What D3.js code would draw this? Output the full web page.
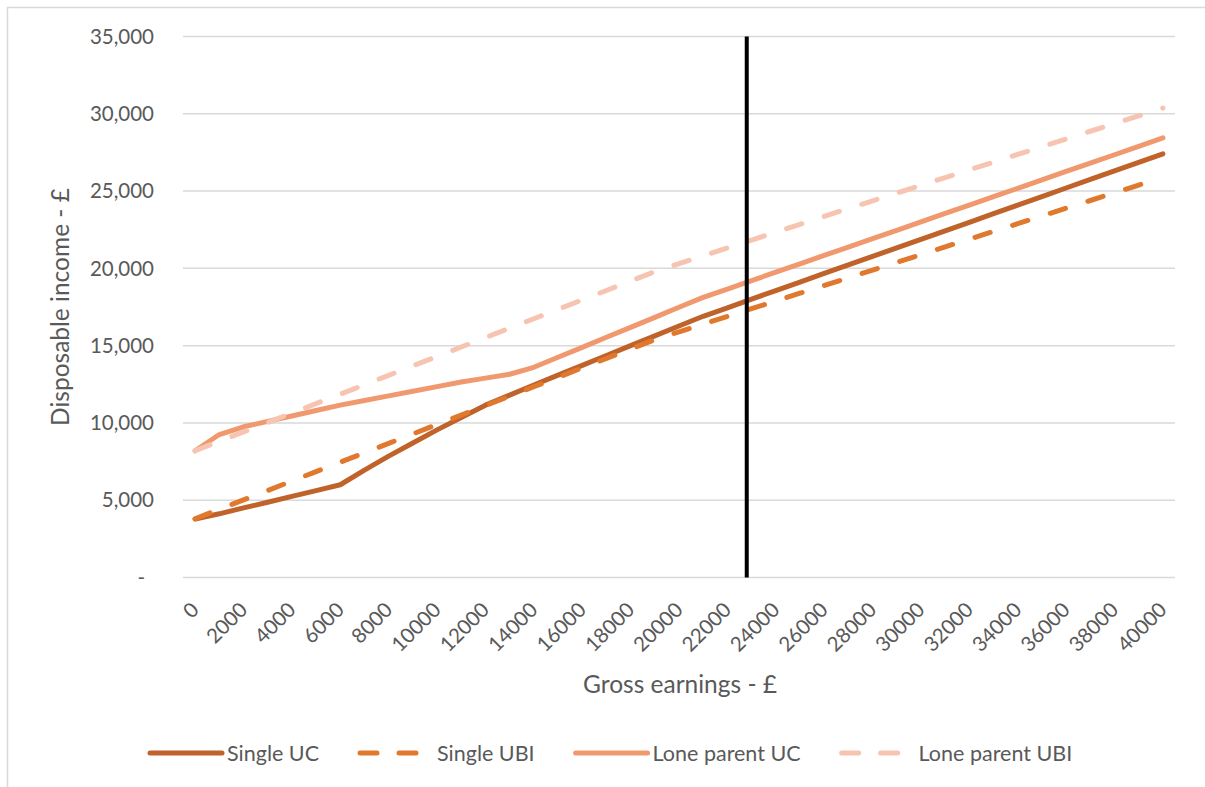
<!DOCTYPE html>
<html>
<head>
<meta charset="utf-8">
<script src="https://cdn.jsdelivr.net/npm/d3@7"></script>
<style>
  body { margin: 0; background: #fff; }
  text { font-family: Lato, "Open Sans", sans-serif; fill: #595959; }
</style>
</head>
<body>
<div id="chart"></div>
<script>
// gross earnings (£), one point every 1000
const earnings = [0, 1000, 2000, 3000, 4000, 5000, 6000, 7000, 8000, 9000, 10000,
  11000, 12000, 13000, 14000, 15000, 16000, 17000, 18000, 19000, 20000,
  21000, 22000, 23000, 24000, 25000, 26000, 27000, 28000, 29000, 30000,
  31000, 32000, 33000, 34000, 35000, 36000, 37000, 38000, 39000, 40000]

const singleUC = [3780, 4120, 4500, 4870, 5250, 5620, 6000, 6950, 7850, 8700, 9550,
  10350, 11150, 11800, 12450, 13090, 13720, 14360, 15000, 15630, 16270,
  16900, 17450, 18010, 18560, 19110, 19670, 20220, 20770, 21330, 21880,
  22430, 22980, 23540, 24090, 24640, 25200, 25750, 26300, 26850, 27410]

const singleUBI = [3800, 4410, 5020, 5630, 6240, 6850, 7460, 8070, 8680, 9290, 9900,
  10510, 11120, 11730, 12340, 12950, 13560, 14170, 14780, 15390, 15890,
  16390, 16890, 17390, 17890, 18390, 18890, 19390, 19890, 20390, 20890,
  21390, 21890, 22390, 22890, 23390, 23890, 24390, 24890, 25390, 25890]

const loneParentUC = [8200, 9250, 9750, 10100, 10450, 10800, 11150, 11450, 11750, 12050, 12350,
  12650, 12900, 13150, 13600, 14250, 14890, 15540, 16180, 16830, 17480,
  18120, 18660, 19210, 19750, 20290, 20840, 21380, 21920, 22460, 23010,
  23550, 24090, 24640, 25180, 25720, 26270, 26810, 27350, 27890, 28440]

const loneParentUBI = [8200, 8810, 9420, 10030, 10640, 11250, 11860, 12470, 13080, 13690, 14300,
  14910, 15520, 16130, 16740, 17350, 17960, 18570, 19180, 19790, 20300,
  20810, 21320, 21830, 22340, 22850, 23360, 23870, 24370, 24870, 25370,
  25870, 26370, 26870, 27370, 27870, 28370, 28870, 29370, 29870, 30370]

const xTickLabels = [0, 2000, 4000, 6000, 8000, 10000, 12000, 14000, 16000, 18000, 20000,
  22000, 24000, 26000, 28000, 30000, 32000, 34000, 36000, 38000, 40000]
const yTicks = [0, 5000, 10000, 15000, 20000, 25000, 30000, 35000]

// vertical marker
const markerEarnings = 22800

const seriesNames = ['Single UC', 'Single UBI', 'Lone parent UC', 'Lone parent UBI']
const seriesValues = [singleUC, singleUBI, loneParentUC, loneParentUBI]
const seriesColors = ['#C0632A', '#E0792E', '#F0996F', '#F6C4B0']
const seriesDashed = [false, true, false, true]

const W = 1205, H = 787
const plot = { left: 183, right: 1175, top: 36.5, bottom: 577.5 }

const svg = d3.select('#chart').append('svg')
  .attr('width', W)
  .attr('height', H)

// chart border (only left & top visible in frame)
svg.append('path')
  .attr('d', 'M7.5,' + H + 'V7.5H' + W)
  .attr('fill', 'none')
  .attr('stroke', '#D9D9D9')
  .attr('stroke-width', 1.5)

const x = d3.scaleLinear().domain([-500, 40500]).range([plot.left, plot.right])
const y = d3.scaleLinear().domain([0, 35000]).range([plot.bottom, plot.top])

// gridlines
svg.append('g')
  .selectAll('line')
  .data(yTicks)
  .enter()
  .append('line')
  .attr('x1', plot.left)
  .attr('x2', plot.right)
  .attr('y1', d => y(d))
  .attr('y2', d => y(d))
  .attr('stroke', '#D9D9D9')
  .attr('stroke-width', 1.5)

// y labels
const fmt = d3.format(',')
svg.append('g')
  .selectAll('text')
  .data(yTicks)
  .enter()
  .append('text')
  .attr('x', d => d === 0 ? 145 : 154)
  .attr('y', d => y(d))
  .attr('dy', '0.35em')
  .attr('text-anchor', 'end')
  .attr('font-size', 20.5)
  .text(d => d === 0 ? '-' : fmt(d))

// x labels (rotated)
svg.append('g')
  .selectAll('text')
  .data(xTickLabels)
  .enter()
  .append('text')
  .attr('transform', d => 'translate(' + x(d) + ',606) rotate(-45)')
  .attr('dy', '0.35em')
  .attr('text-anchor', 'end')
  .attr('font-size', 20.5)
  .text(d => d)

// axis titles
svg.append('text')
  .attr('x', 680)
  .attr('y', 693)
  .attr('text-anchor', 'middle')
  .attr('font-size', 24.5)
  .text('Gross earnings - £')

svg.append('text')
  .attr('transform', 'translate(69,' + (plot.top + plot.bottom) / 2 + ') rotate(-90)')
  .attr('text-anchor', 'middle')
  .attr('font-size', 24.5)
  .text('Disposable income - £')

// lines
const valueLine = d3.line()
  .x((d, i) => x(earnings[i]))
  .y(d => y(d))

svg.append('g')
  .selectAll('path')
  .data(seriesValues)
  .enter()
  .append('path')
  .attr('d', d => valueLine(d))
  .attr('fill', 'none')
  .attr('stroke', (d, i) => seriesColors[i])
  .attr('stroke-width', 5)
  .attr('stroke-linejoin', 'round')
  .attr('stroke-linecap', 'round')
  .attr('stroke-dasharray', (d, i) => seriesDashed[i] ? '16 23.5' : null)

// marker line
svg.append('line')
  .attr('x1', x(markerEarnings))
  .attr('x2', x(markerEarnings))
  .attr('y1', y(35000))
  .attr('y2', y(0))
  .attr('stroke', '#000')
  .attr('stroke-width', 4)

// legend
const legend = svg.append('g')
let lx = 150
const ly = 753
seriesNames.forEach((name, i) => {
  legend.append('line')
    .attr('x1', lx).attr('x2', lx + 72)
    .attr('y1', ly).attr('y2', ly)
    .attr('stroke', seriesColors[i])
    .attr('stroke-width', 5)
    .attr('stroke-linecap', 'round')
    .attr('stroke-dasharray', seriesDashed[i] ? '17 22' : null)
  const t = legend.append('text')
    .attr('x', lx + 77)
    .attr('y', ly)
    .attr('dy', '0.35em')
    .attr('font-size', 21.5)
    .text(name)
  lx += 77 + t.node().getComputedTextLength() + 41
})
</script>
</body>
</html>
